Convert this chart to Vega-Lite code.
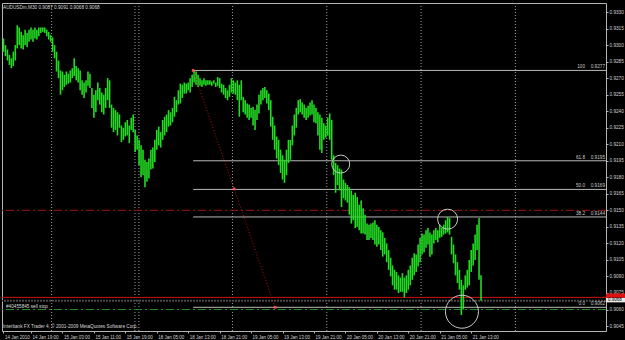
{
"$schema":"https://vega.github.io/schema/vega-lite/v6.json",
"width":604,"height":328,"autosize":"none",
"padding":{"left":2,"top":3,"right":19,"bottom":9},
"background":"#000000",
"config":{"view":{"stroke":"#b4b4b4","strokeWidth":1},"axis":{"labelFont":"Liberation Sans","labelColor":"#d0d0d0","tickColor":"#b4b4b4","domain":false,"grid":false,"title":null,"labelOverlap":false,"labelFlush":false,"labelBound":false},"text":{"font":"Liberation Sans"}},
"datasets":{
"bars":[
{"i":0,"h":0.9306,"l":0.9294},{"i":1,"h":0.9300,"l":0.9290},{"i":2,"h":0.9296,"l":0.9286},{"i":3,"h":0.9291,"l":0.9282},{"i":4,"h":0.9288,"l":0.9279},
{"i":5,"h":0.9294,"l":0.9281},{"i":6,"h":0.9300,"l":0.9286},{"i":7,"h":0.9318,"l":0.9297},{"i":8,"h":0.9316,"l":0.9300},{"i":9,"h":0.9312,"l":0.9297},
{"i":10,"h":0.9309,"l":0.9296},{"i":11,"h":0.9314,"l":0.9300},{"i":12,"h":0.9311,"l":0.9298},{"i":13,"h":0.9314,"l":0.9303},{"i":14,"h":0.9316,"l":0.9305},
{"i":15,"h":0.9314,"l":0.9303},{"i":16,"h":0.9316,"l":0.9306},{"i":17,"h":0.9314,"l":0.9305},{"i":18,"h":0.9316,"l":0.9308},{"i":19,"h":0.9316,"l":0.9311},
{"i":20,"h":0.9316,"l":0.9312},{"i":21,"h":0.9316,"l":0.9311},{"i":22,"h":0.9314,"l":0.9308},{"i":23,"h":0.9312,"l":0.9305},{"i":24,"h":0.9309,"l":0.9303},
{"i":25,"h":0.9307,"l":0.9294},{"i":26,"h":0.9300,"l":0.9288},{"i":27,"h":0.9294,"l":0.9276},{"i":28,"h":0.9286,"l":0.9270},{"i":29,"h":0.9277,"l":0.9255},
{"i":30,"h":0.9276,"l":0.9259},{"i":31,"h":0.9273,"l":0.9262},{"i":32,"h":0.9276,"l":0.9264},{"i":33,"h":0.9274,"l":0.9265},{"i":34,"h":0.9277,"l":0.9266},
{"i":35,"h":0.9279,"l":0.9270},{"i":36,"h":0.9288,"l":0.9272},{"i":37,"h":0.9281,"l":0.9268},{"i":38,"h":0.9279,"l":0.9266},{"i":39,"h":0.9277,"l":0.9259},
{"i":40,"h":0.9268,"l":0.9255},{"i":41,"h":0.9266,"l":0.9252},{"i":42,"h":0.9268,"l":0.9257},{"i":43,"h":0.9276,"l":0.9263},{"i":44,"h":0.9274,"l":0.9261},
{"i":45,"h":0.9261,"l":0.9243},{"i":46,"h":0.9255,"l":0.9234},{"i":47,"h":0.9259,"l":0.9239},{"i":48,"h":0.9266,"l":0.9250},{"i":49,"h":0.9261,"l":0.9246},
{"i":50,"h":0.9257,"l":0.9239},{"i":51,"h":0.9255,"l":0.9237},{"i":52,"h":0.9261,"l":0.9243},{"i":53,"h":0.9270,"l":0.9250},{"i":54,"h":0.9268,"l":0.9243},
{"i":55,"h":0.9246,"l":0.9225},{"i":56,"h":0.9243,"l":0.9221},{"i":57,"h":0.9241,"l":0.9223},{"i":58,"h":0.9239,"l":0.9218},{"i":59,"h":0.9237,"l":0.9225},
{"i":60,"h":0.9227,"l":0.9212},{"i":61,"h":0.9225,"l":0.9214},{"i":62,"h":0.9230,"l":0.9217},{"i":63,"h":0.9232,"l":0.9218},{"i":64,"h":0.9227,"l":0.9211},
{"i":65,"h":0.9234,"l":0.9223},{"i":66,"h":0.9237,"l":0.9221},{"i":67,"h":0.9223,"l":0.9203},{"i":68,"h":0.9218,"l":0.9205},{"i":69,"h":0.9214,"l":0.9191},
{"i":70,"h":0.9209,"l":0.9180},{"i":71,"h":0.9205,"l":0.9182},{"i":72,"h":0.9196,"l":0.9171},{"i":73,"h":0.9194,"l":0.9176},{"i":74,"h":0.9197,"l":0.9179},
{"i":75,"h":0.9205,"l":0.9187},{"i":76,"h":0.9207,"l":0.9188},{"i":77,"h":0.9214,"l":0.9194},{"i":78,"h":0.9223,"l":0.9205},{"i":79,"h":0.9226,"l":0.9209},
{"i":80,"h":0.9221,"l":0.9207},{"i":81,"h":0.9232,"l":0.9214},{"i":82,"h":0.9235,"l":0.9218},{"i":83,"h":0.9237,"l":0.9221},{"i":84,"h":0.9241,"l":0.9226},
{"i":85,"h":0.9239,"l":0.9227},{"i":86,"h":0.9243,"l":0.9230},{"i":87,"h":0.9253,"l":0.9235},{"i":88,"h":0.9250,"l":0.9239},{"i":89,"h":0.9259,"l":0.9246},
{"i":90,"h":0.9265,"l":0.9247},{"i":91,"h":0.9264,"l":0.9252},{"i":92,"h":0.9266,"l":0.9256},{"i":93,"h":0.9265,"l":0.9256},{"i":94,"h":0.9266,"l":0.9259},
{"i":95,"h":0.9270,"l":0.9257},{"i":96,"h":0.9273,"l":0.9262},{"i":97,"h":0.9277,"l":0.9266},{"i":98,"h":0.9276,"l":0.9264},{"i":99,"h":0.9273,"l":0.9262},
{"i":100,"h":0.9270,"l":0.9263},{"i":101,"h":0.9268,"l":0.9262},{"i":102,"h":0.9270,"l":0.9264},{"i":103,"h":0.9268,"l":0.9263},{"i":104,"h":0.9268,"l":0.9264},
{"i":105,"h":0.9268,"l":0.9264},{"i":106,"h":0.9267,"l":0.9263},{"i":107,"h":0.9268,"l":0.9265},{"i":108,"h":0.9266,"l":0.9262},{"i":109,"h":0.9271,"l":0.9263},
{"i":110,"h":0.9270,"l":0.9261},{"i":111,"h":0.9265,"l":0.9257},{"i":112,"h":0.9264,"l":0.9255},{"i":113,"h":0.9261,"l":0.9252},{"i":114,"h":0.9259,"l":0.9250},
{"i":115,"h":0.9264,"l":0.9253},{"i":116,"h":0.9270,"l":0.9257},{"i":117,"h":0.9268,"l":0.9256},{"i":118,"h":0.9266,"l":0.9255},{"i":119,"h":0.9268,"l":0.9250},
{"i":120,"h":0.9264,"l":0.9235},{"i":121,"h":0.9268,"l":0.9250},{"i":122,"h":0.9253,"l":0.9239},{"i":123,"h":0.9250,"l":0.9237},{"i":124,"h":0.9247,"l":0.9234},
{"i":125,"h":0.9246,"l":0.9232},{"i":126,"h":0.9243,"l":0.9234},{"i":127,"h":0.9244,"l":0.9227},{"i":128,"h":0.9241,"l":0.9223},{"i":129,"h":0.9246,"l":0.9232},
{"i":130,"h":0.9255,"l":0.9238},{"i":131,"h":0.9259,"l":0.9246},{"i":132,"h":0.9261,"l":0.9250},{"i":133,"h":0.9262,"l":0.9252},{"i":134,"h":0.9259,"l":0.9247},
{"i":135,"h":0.9256,"l":0.9241},{"i":136,"h":0.9250,"l":0.9226},{"i":137,"h":0.9235,"l":0.9214},{"i":138,"h":0.9227,"l":0.9205},{"i":139,"h":0.9217,"l":0.9197},
{"i":140,"h":0.9214,"l":0.9191},{"i":141,"h":0.9205,"l":0.9184},{"i":142,"h":0.9200,"l":0.9178},{"i":143,"h":0.9196,"l":0.9175},{"i":144,"h":0.9205,"l":0.9182},
{"i":145,"h":0.9214,"l":0.9193},{"i":146,"h":0.9214,"l":0.9196},{"i":147,"h":0.9227,"l":0.9209},{"i":148,"h":0.9237,"l":0.9218},{"i":149,"h":0.9243,"l":0.9225},
{"i":150,"h":0.9250,"l":0.9237},{"i":151,"h":0.9251,"l":0.9239},{"i":152,"h":0.9248,"l":0.9237},{"i":153,"h":0.9246,"l":0.9234},{"i":154,"h":0.9243,"l":0.9232},
{"i":155,"h":0.9245,"l":0.9234},{"i":156,"h":0.9248,"l":0.9236},{"i":157,"h":0.9250,"l":0.9237},{"i":158,"h":0.9246,"l":0.9230},{"i":159,"h":0.9243,"l":0.9229},
{"i":160,"h":0.9239,"l":0.9218},{"i":161,"h":0.9237,"l":0.9205},{"i":162,"h":0.9234,"l":0.9202},{"i":163,"h":0.9229,"l":0.9214},{"i":164,"h":0.9227,"l":0.9216},
{"i":165,"h":0.9234,"l":0.9218},{"i":166,"h":0.9238,"l":0.9214},{"i":167,"h":0.9232,"l":0.9196},{"i":168,"h":0.9200,"l":0.9182},{"i":169,"h":0.9193,"l":0.9166},
{"i":170,"h":0.9191,"l":0.9173},{"i":171,"h":0.9188,"l":0.9168},{"i":172,"h":0.9187,"l":0.9153},{"i":173,"h":0.9178,"l":0.9161},{"i":174,"h":0.9175,"l":0.9159},
{"i":175,"h":0.9173,"l":0.9157},{"i":176,"h":0.9171,"l":0.9146},{"i":177,"h":0.9168,"l":0.9138},{"i":178,"h":0.9164,"l":0.9141},{"i":179,"h":0.9166,"l":0.9134},
{"i":180,"h":0.9162,"l":0.9135},{"i":181,"h":0.9155,"l":0.9132},{"i":182,"h":0.9159,"l":0.9129},{"i":183,"h":0.9152,"l":0.9129},{"i":184,"h":0.9146,"l":0.9128},
{"i":185,"h":0.9138,"l":0.9123},{"i":186,"h":0.9137,"l":0.9123},{"i":187,"h":0.9138,"l":0.9125},{"i":188,"h":0.9139,"l":0.9123},{"i":189,"h":0.9141,"l":0.9119},
{"i":190,"h":0.9137,"l":0.9117},{"i":191,"h":0.9135,"l":0.9119},{"i":192,"h":0.9132,"l":0.9114},{"i":193,"h":0.9130,"l":0.9108},{"i":194,"h":0.9125,"l":0.9110},
{"i":195,"h":0.9120,"l":0.9103},{"i":196,"h":0.9114,"l":0.9096},{"i":197,"h":0.9107,"l":0.9090},{"i":198,"h":0.9100,"l":0.9082},{"i":199,"h":0.9096,"l":0.9078},
{"i":200,"h":0.9094,"l":0.9078},{"i":201,"h":0.9091,"l":0.9075},{"i":202,"h":0.9089,"l":0.9076},{"i":203,"h":0.9093,"l":0.9076},{"i":204,"h":0.9089,"l":0.9071},
{"i":205,"h":0.9091,"l":0.9075},{"i":206,"h":0.9096,"l":0.9078},{"i":207,"h":0.9100,"l":0.9082},{"i":208,"h":0.9107,"l":0.9087},{"i":209,"h":0.9111,"l":0.9091},
{"i":210,"h":0.9110,"l":0.9094},{"i":211,"h":0.9119,"l":0.9099},{"i":212,"h":0.9125,"l":0.9103},{"i":213,"h":0.9129,"l":0.9110},{"i":214,"h":0.9128,"l":0.9112},
{"i":215,"h":0.9132,"l":0.9116},{"i":216,"h":0.9134,"l":0.9119},{"i":217,"h":0.9130,"l":0.9108},{"i":218,"h":0.9128,"l":0.9110},{"i":219,"h":0.9132,"l":0.9120},
{"i":220,"h":0.9134,"l":0.9123},{"i":221,"h":0.9132,"l":0.9121},{"i":222,"h":0.9137,"l":0.9125},{"i":223,"h":0.9134,"l":0.9126},{"i":224,"h":0.9137,"l":0.9128},
{"i":225,"h":0.9141,"l":0.9129},{"i":226,"h":0.9144,"l":0.9130},{"i":227,"h":0.9143,"l":0.9128},{"i":228,"h":0.9126,"l":0.9110},{"i":229,"h":0.9119,"l":0.9102},
{"i":230,"h":0.9110,"l":0.9091},{"i":231,"h":0.9103,"l":0.9084},{"i":232,"h":0.9096,"l":0.9078},{"i":233,"h":0.9087,"l":0.9055},{"i":234,"h":0.9082,"l":0.9060},
{"i":235,"h":0.9091,"l":0.9078},{"i":236,"h":0.9096,"l":0.9080},{"i":237,"h":0.9105,"l":0.9082},{"i":238,"h":0.9114,"l":0.9094},{"i":239,"h":0.9120,"l":0.9100},
{"i":240,"h":0.9128,"l":0.9105},{"i":241,"h":0.9137,"l":0.9114},{"i":242,"h":0.9143,"l":0.9087},{"i":243,"h":0.9091,"l":0.9068}
],
"fib":[{"lvl":"100","p":0.9277},{"lvl":"61.8","p":0.9195},{"lvl":"50.0","p":0.9169},{"lvl":"38.2","p":0.9144},{"lvl":"0.0","p":0.9062}],
"seps":[{"d":24.5},{"d":66.9},{"d":68.9},{"d":116.5},{"d":164.5},{"d":212.5},{"d":260.5}],
"anchors":[{"i":96.5,"p":0.9277},{"i":117.35,"p":0.91695},{"i":138.2,"p":0.9062}]
},
"layer":[
{"data":{"name":"seps"},"mark":{"type":"rule","color":"#a0a0a0","strokeDash":[1,2],"strokeWidth":1},
 "encoding":{"x":{"field":"d","type":"quantitative","scale":{"domain":[-0.76,306.6],"nice":false,"zero":false},
   "axis":{"orient":"bottom","values":[0,14,30,46,62,78,94,110,126,142,158,174,190,206,222,238],"tickCount":40,
    "labelExpr":"datum.value == 0 ? '14 Jan 2010' : ['14 Jan 19:00','15 Jan 03:00','15 Jan 11:00','15 Jan 19:00','18 Jan 05:00','18 Jan 13:00','18 Jan 21:00','19 Jan 05:00','19 Jan 13:00','19 Jan 21:00','20 Jan 05:00','20 Jan 13:00','20 Jan 21:00','21 Jan 05:00','21 Jan 13:00'][(datum.value-14)/16]",
    "labelAlign":"left","labelBaseline":"top","labelPadding":1,"labelOffset":1,"tickSize":2,"labelFontSize":4.5,"labelOverlap":false,"labelFlush":false,"labelBound":false}}}},
{"data":{"name":"fib"},"mark":{"type":"rule","color":"#b8b8b8","strokeWidth":1},
 "encoding":{"x":{"datum":96.5,"type":"quantitative"},"x2":{"datum":306.6},
  "y":{"field":"p","type":"quantitative","scale":{"domain":[0.90405,0.93382],"nice":false,"zero":false},
   "axis":{"orient":"right","values":[0.9045,0.906,0.9075,0.909,0.9105,0.912,0.9135,0.915,0.9165,0.918,0.9195,0.921,0.9225,0.924,0.9255,0.927,0.9285,0.93,0.9315,0.933],"tickCount":40,
    "format":".4f","labelFontSize":4.7,"tickSize":2,"labelPadding":1,"labelOverlap":false,"labelFlush":false,"labelBound":false}}}},
{"data":{"values":[{}]},"mark":{"type":"rule","color":"#a01414","strokeDash":[8,3,2,3],"strokeWidth":1},
 "encoding":{"y":{"datum":0.9150,"type":"quantitative"}}},
{"data":{"values":[{}]},"mark":{"type":"rule","color":"#1e8c1e","strokeDash":[8,3,2,3],"strokeWidth":1},
 "encoding":{"y":{"datum":0.9060,"type":"quantitative"}}},
{"data":{"values":[{}]},"mark":{"type":"rule","color":"#4a4a4a","strokeDash":[2,1],"strokeWidth":2},
 "encoding":{"y":{"datum":0.9068,"type":"quantitative"}}},
{"data":{"values":[{}]},"mark":{"type":"rule","color":"#d01010","strokeWidth":1},
 "encoding":{"y":{"datum":0.9071,"type":"quantitative"}}},
{"data":{"name":"bars"},"mark":{"type":"rule","color":"#22dc22","strokeWidth":1.6},
 "encoding":{"x":{"field":"i","type":"quantitative"},"y":{"field":"l","type":"quantitative"},"y2":{"field":"h"}}},
{"data":{"values":[{}]},"mark":{"type":"rule","color":"#c01010","strokeDash":[1,2],"strokeWidth":1},
 "encoding":{"x":{"datum":96.5,"type":"quantitative"},"y":{"datum":0.9277,"type":"quantitative"},"x2":{"datum":138.2},"y2":{"datum":0.9062}}},
{"data":{"name":"anchors"},"mark":{"type":"point","shape":"square","size":7,"filled":true,"color":"#ff5050","opacity":1},
 "encoding":{"x":{"field":"i","type":"quantitative"},"y":{"field":"p","type":"quantitative"}}},
{"data":{"values":[{}]},"mark":{"type":"point","shape":"circle","size":324,"filled":false,"color":"#c8c8c8","strokeWidth":1,"opacity":1},
 "encoding":{"x":{"datum":171.6,"type":"quantitative"},"y":{"datum":0.9192,"type":"quantitative"}}},
{"data":{"values":[{}]},"mark":{"type":"point","shape":"circle","size":400,"filled":false,"color":"#c8c8c8","strokeWidth":1,"opacity":1},
 "encoding":{"x":{"datum":226,"type":"quantitative"},"y":{"datum":0.9142,"type":"quantitative"}}},
{"data":{"values":[{}]},"mark":{"type":"point","shape":"circle","size":1089,"filled":false,"color":"#c8c8c8","strokeWidth":1,"opacity":1},
 "encoding":{"x":{"datum":233.3,"type":"quantitative"},"y":{"datum":0.9058,"type":"quantitative"}}},
{"data":{"name":"fib"},"mark":{"type":"text","align":"right","baseline":"bottom","dx":-1,"dy":-1,"fontSize":4.7,"color":"#c8c8c8"},
 "encoding":{"x":{"datum":306.6,"type":"quantitative"},"y":{"field":"p","type":"quantitative"},"text":{"field":"p","type":"quantitative","format":".4f"}}},
{"data":{"name":"fib"},"mark":{"type":"text","align":"right","baseline":"bottom","dx":-21,"dy":-1,"fontSize":4.7,"color":"#c8c8c8"},
 "encoding":{"x":{"datum":306.6,"type":"quantitative"},"y":{"field":"p","type":"quantitative"},"text":{"field":"lvl"}}},
{"data":{"values":[{}]},"mark":{"type":"text","text":"AUDUSDm,M30  0.9087 0.9091 0.9068 0.9068","align":"left","baseline":"top","dx":1,"dy":2,"fontSize":4.7,"color":"#d8d8d8"},
 "encoding":{"x":{"datum":-0.76,"type":"quantitative"},"y":{"datum":0.93382,"type":"quantitative"}}},
{"data":{"values":[{}]},"mark":{"type":"text","text":"Interbank FX Trader 4, © 2001-2009 MetaQuotes Software Corp.","align":"left","baseline":"bottom","dx":1,"dy":-2,"fontSize":4.7,"color":"#d8d8d8"},
 "encoding":{"x":{"datum":-0.76,"type":"quantitative"},"y":{"datum":0.90405,"type":"quantitative"}}},
{"data":{"values":[{}]},"mark":{"type":"text","text":"#40455845 sell stop","align":"left","baseline":"bottom","dx":4,"dy":-1,"fontSize":4.7,"color":"#d8d8d8"},
 "encoding":{"x":{"datum":-0.76,"type":"quantitative"},"y":{"datum":0.9060,"type":"quantitative"}}},
{"data":{"values":[{}]},"mark":{"type":"rect","color":"#e01010"},
 "encoding":{"x":{"datum":306.6,"type":"quantitative"},"x2":{"datum":316.3},"y":{"datum":0.90745,"type":"quantitative"},"y2":{"datum":0.90705}}},
{"data":{"values":[{}]},"mark":{"type":"rect","color":"#e8e8e8"},
 "encoding":{"x":{"datum":306.6,"type":"quantitative"},"x2":{"datum":316.3},"y":{"datum":0.90705,"type":"quantitative"},"y2":{"datum":0.90665}}},
{"data":{"values":[{}]},"mark":{"type":"text","text":"0.9068","align":"left","baseline":"middle","dx":2,"fontSize":4.5,"color":"#000000"},
 "encoding":{"x":{"datum":306.6,"type":"quantitative"},"y":{"datum":0.90685,"type":"quantitative"}}}
]
}
